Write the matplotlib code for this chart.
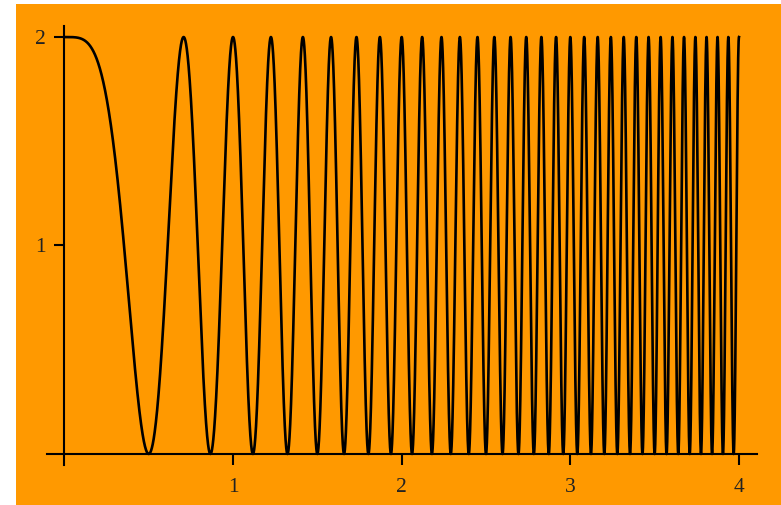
import numpy as np
import matplotlib
matplotlib.use('Agg')
import matplotlib.pyplot as plt
from matplotlib.patches import Rectangle

# curve y = offset + amp*cos(freq * x**2) on [x_min, x_max]
x_min, x_max = 0.0, 4.0
offset, amp, freq = 1.0, 1.0, 4 * np.pi
xticks = [1, 2, 3, 4]
yticks = [1, 2]

orange = '#ff9900'

fig = plt.figure(figsize=(7.81, 5.05), dpi=100)
fig.patch.set_facecolor('white')
fig.patches.append(Rectangle((16 / 781, 0), 1 - 16 / 781, 501 / 505,
                             transform=fig.transFigure, facecolor=orange,
                             edgecolor='none', zorder=-10))

ax = fig.add_axes([47 / 781, 40 / 505, 710 / 781, 439 / 505])
ax.set_facecolor('none')

x = np.linspace(x_min, x_max, 40000)
y = offset + amp * np.cos(freq * x ** 2)
ax.plot(x, y, color='black', lw=1.9, solid_joinstyle='round')

ax.set_xlim(-0.103, 4.107)
ax.set_ylim(-0.053, 2.053)

for s in ['top', 'right']:
    ax.spines[s].set_visible(False)
ax.spines['left'].set_position(('data', 0))
ax.spines['bottom'].set_position(('data', 0))
for s in ['left', 'bottom']:
    ax.spines[s].set_linewidth(1.5)
    ax.spines[s].set_color('black')
ax.spines['left'].set_bounds(-0.053, 2.053)
ax.spines['bottom'].set_bounds(-0.103, 4.107)

ax.set_xticks(xticks)
ax.set_yticks(yticks)
ax.set_xticklabels([str(t) for t in xticks])
ax.set_yticklabels([str(t) for t in yticks])
ax.tick_params(axis='x', direction='out', length=8, width=1.5, pad=9,
               labelsize=15.5, labelcolor='#222222')
ax.tick_params(axis='y', direction='out', length=7.5, width=1.5, pad=6,
               labelsize=15.5, labelcolor='#222222')
for lab in ax.get_xticklabels() + ax.get_yticklabels():
    lab.set_fontfamily('Liberation Serif')

fig.savefig('out.png', dpi=100, facecolor=fig.get_facecolor())
